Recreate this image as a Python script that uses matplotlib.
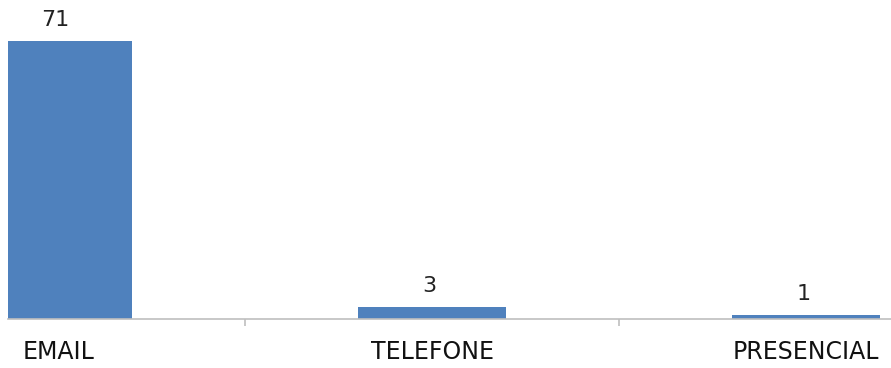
import matplotlib
matplotlib.use("Agg")
import matplotlib.pyplot as plt

categories = ["EMAIL", "TELEFONE", "PRESENCIAL"]
values = [71, 3, 1]

bar_color = "#4f81bd"
axis_color = "#bfbfbf"

plt.rcParams['font.family'] = ['DejaVu Sans']

fig = plt.figure(figsize=(8.91, 3.68), dpi=100)
ax = fig.add_axes([8/891, 49/368, 883/891, 313/368])

x = list(range(len(categories)))
bars = ax.bar(x, values, width=0.395, color=bar_color, edgecolor='none', zorder=2)

ax.set_xlim(-0.134, 2.227)
ax.set_ylim(0, 80)

for xi, v in zip(x, values):
    ax.annotate(str(v), (xi, v), xytext=(-2, 8), textcoords='offset points',
                ha='center', va='bottom', fontsize=16, color='#222222')

for s in ['top', 'right', 'left']:
    ax.spines[s].set_visible(False)
ax.spines['bottom'].set_color(axis_color)
ax.spines['bottom'].set_linewidth(1.2)

ax.set_yticks([])
ax.set_xticks(x)
ax.set_xticklabels(categories, fontsize=17, color='#111111')
ax.tick_params(axis='x', which='major', length=0, pad=15)
ax.set_xticks([0.5, 1.5], minor=True)
ax.tick_params(axis='x', which='minor', length=5, color=axis_color, width=1.2)

fig.savefig("out.png", dpi=100)
